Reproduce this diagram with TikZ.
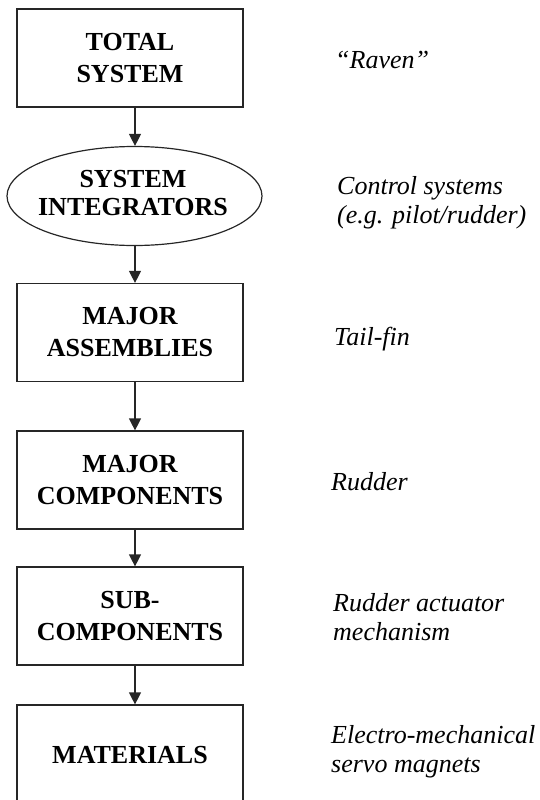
\documentclass[tikz,border=0pt]{standalone}
\usepackage{fontspec}
\setmainfont{Liberation Serif}
\usetikzlibrary{shapes.geometric,arrows.meta}
\begin{document}
\begin{tikzpicture}[x=1pt,y=-1pt,
  box/.style={draw=black!85,line width=1.2pt,minimum width=226pt,minimum height=98pt,inner sep=0pt,align=center,font=\fontsize{26}{32}\selectfont\bfseries},
  oval/.style={ellipse,draw=black!85,line width=1.2pt,minimum width=255pt,minimum height=99pt,inner sep=0pt},
  ovaltext/.style={inner sep=0pt,align=center,font=\fontsize{26}{28}\selectfont\bfseries},
  note/.style={anchor=base west,inner sep=0pt,align=left,font=\fontsize{26}{29}\selectfont\itshape},
  arr/.style={draw=black!85,line width=1.2pt,-{Triangle[length=12pt,width=12pt]}}]
\useasboundingbox (0,0) rectangle (540,800);
\clip (0,0) rectangle (540,800);
\coordinate (ax) at (135,0);
\node[box] (ts) at (130,58) {TOTAL\\SYSTEM};
\node[oval] (si) at (134.5,196) {};
\node[ovaltext] (sit) at (133,193) {SYSTEM\\INTEGRATORS};
\node[box] (ma) at (130,332.5) {MAJOR\\ASSEMBLIES};
\node[box] (mc) at (130,480) {MAJOR\\COMPONENTS};
\node[box] (sc) at (130,616) {SUB-\\COMPONENTS};
\node[box,minimum height=100pt] (mt) at (130,755) {MATERIALS};
\draw[arr] (ts.south -| ax) -- (si.north -| ax);
\draw[arr] (si.south -| ax) -- (ma.north -| ax);
\draw[arr] (ma.south -| ax) -- (mc.north -| ax);
\draw[arr] (mc.south -| ax) -- (sc.north -| ax);
\draw[arr] (sc.south -| ax) -- (mt.north -| ax);
\node[note] (n1) at (335,69) {“Raven”};
\node[note] (n2) at (337,223) {Control systems\\(e.g. pilot/rudder)};
\node[note] (n3) at (334,345) {Tail-fin};
\node[note] (n4) at (331,490) {Rudder};
\node[note] (n5) at (333,640) {Rudder actuator\\mechanism};
\node[note] (n6) at (331,772) {Electro-mechanical\\servo magnets};
\end{tikzpicture}
\end{document}
